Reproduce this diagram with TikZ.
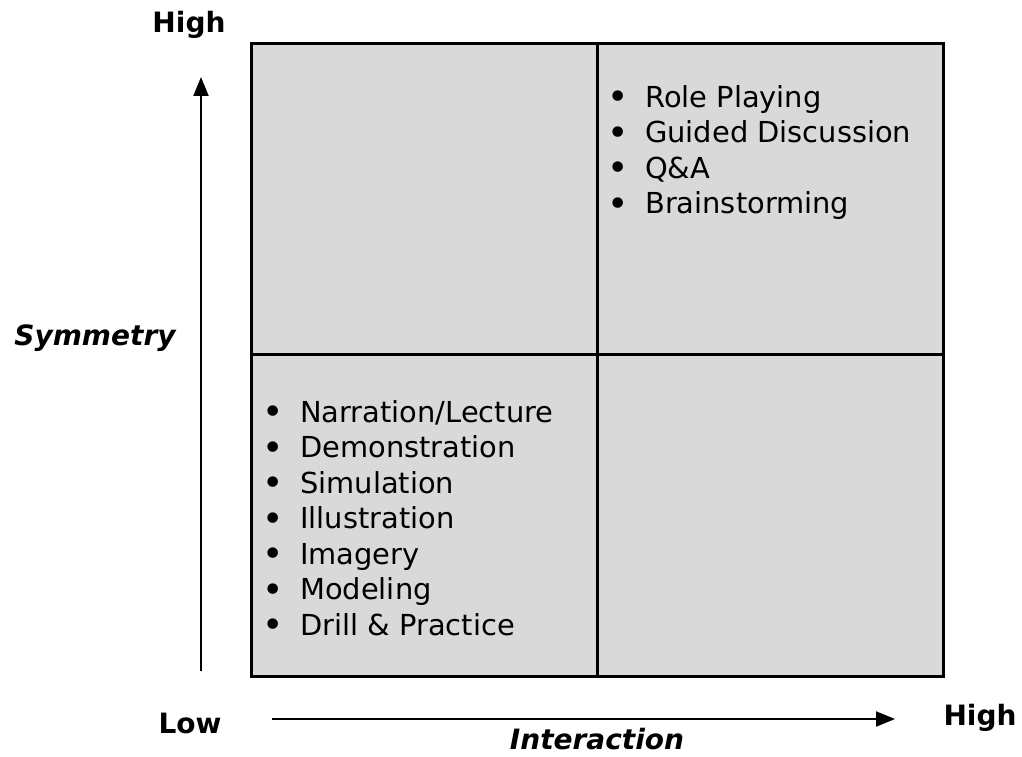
\documentclass[tikz,border=0pt]{standalone}
\usepackage{fontspec}
\setmainfont{DejaVu Sans}
\usetikzlibrary{arrows.meta,positioning}
\definecolor{cellgray}{RGB}{217,217,217}
\newcommand{\bul}{\makebox[37.5pt][l]{\raisebox{-2.5pt}{\scalebox{1.25}{\textbullet}}}}
\tikzset{%
	cell/.style     = {draw, fill=cellgray, line width=3.4pt, rectangle, anchor=north west, minimum width=346pt, inner sep=0pt},
	itemlist/.style = {align=left, anchor=base west, inner sep=0pt, font=\fontsize{28.9}{35.5}\selectfont},
	axislabel/.style= {anchor=base, inner sep=0pt, font=\fontsize{28}{30}\selectfont\bfseries},
	axisname/.style = {anchor=base, inner sep=0pt, font=\fontsize{28}{30}\selectfont\bfseries\itshape},
	axis/.style     = {line width=2pt, -{Triangle[length=19pt,width=15pt]}},
}
\begin{document}
\begin{tikzpicture}[x=1pt,y=-1pt]
	\useasboundingbox (0,0) rectangle (1022,757);
	% quadrants
	\node[cell,minimum height=311pt] (tl) at (250,42) {};
	\node[cell,minimum height=311pt] (tr) at (596,42) {};
	\node[cell,minimum height=322pt] (bl) at (250,353) {};
	\node[cell,minimum height=322pt] (br) at (596,353) {};
	% lists (base = baseline of last line)
	\node[itemlist] (hilist) at (607.5,213.5) {\bul Role Playing\\\bul Guided Discussion\\\bul Q\&A\\\bul Brainstorming};
	\node[itemlist] (lolist) at (262.5,635) {\bul Narration/Lecture\\\bul Demonstration\\\bul Simulation\\\bul Illustration\\\bul Imagery\\\bul Modeling\\\bul Drill \& Practice};
	% axes
	\coordinate (ystart) at (201,671);
	\coordinate (yend) at (201,77);
	\coordinate (xstart) at (272,719);
	\coordinate (xend) at (895,719);
	\draw[axis] (ystart) -- (yend);
	\draw[axis] (xstart) -- (xend);
	\node[axislabel] (yhigh) at (189,33) {High};
	\node[axislabel] (xlow) at (190,733) {Low};
	\node[axislabel] (xhigh) at (980,725) {High};
	\node[axisname] (yname) at (95,345) {Symmetry};
	\node[axisname] (xname) at (597,749) {Interaction};
\end{tikzpicture}
\end{document}
